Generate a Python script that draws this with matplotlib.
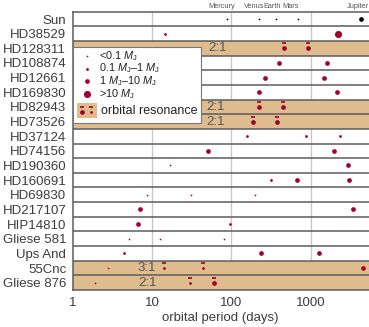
import matplotlib
matplotlib.use("Agg")
import matplotlib.pyplot as plt
from matplotlib.patches import Rectangle
import matplotlib.transforms as mtransforms

plt.rcParams['font.family'] = ['Liberation Sans', 'DejaVu Sans']
plt.rcParams['mathtext.fontset'] = 'custom'
plt.rcParams['mathtext.rm'] = 'Liberation Sans'
plt.rcParams['mathtext.it'] = 'Liberation Sans:italic'

# ---------------- data ----------------
stars = ["Sun", "HD38529", "HD128311", "HD108874", "HD12661", "HD169830",
         "HD82943", "HD73526", "HD37124", "HD74156", "HD190360", "HD160691",
         "HD69830", "HD217107", "HIP14810", "Gliese 581", "Ups And", "55Cnc",
         "Gliese 876"]
periods = [
    [88, 225, 365, 687, 4333],
    [14.8, 2220],
    [460, 930],
    [400, 1610],
    [265, 1466],
    [225, 2120],
    [221, 443],
    [189, 380],
    [156, 863, 2340],
    [51, 1977],
    [17, 2910],
    [316, 666, 3020],
    [8.6, 31, 199],
    [7.1, 3370],
    [6.65, 96],
    [5.2, 12.6, 81.5],
    [4.5, 237, 1280],
    [2.8, 14.2, 43.7, 4580],
    [1.93, 30.3, 61],
]
# mass class: 0 <0.1 MJ, 1 0.1-1 MJ, 2 1-10 MJ, 3 >10 MJ
mass_class = [
    [0, 0, 0, 0, 2],
    [1, 3],
    [2, 2],
    [2, 2],
    [2, 2],
    [2, 2],
    [2, 2],
    [2, 2],
    [1, 1, 1],
    [2, 2],
    [0, 2],
    [1, 2, 2],
    [0, 0, 0],
    [2, 2],
    [2, 1],
    [0, 0, 0],
    [1, 2, 2],
    [0, 1, 1, 2],
    [0, 1, 2],
]
resonant = [
    [0, 0, 0, 0, 0],
    [0, 0],
    [1, 1],
    [0, 0], [0, 0], [0, 0],
    [1, 1],
    [1, 1],
    [0, 0, 0], [0, 0], [0, 0], [0, 0, 0], [0, 0, 0], [0, 0], [0, 0],
    [0, 0, 0], [0, 0, 0],
    [0, 1, 1, 0],
    [0, 1, 1],
]
resonance_rows = ["HD128311", "HD82943", "HD73526", "55Cnc", "Gliese 876"]
resonance_labels = ["2:1", "2:1", "2:1", "3:1", "2:1"]
resonance_label_x = [67, 63, 63, 8.7, 8.7]
solar_names = ["Mercury", "Venus", "Earth", "Mars", "Jupiter"]
solar_label_x = [76, 195, 330, 560, 5350]
xticks = [1, 10, 100, 1000]
xticklabels = ["1", "10", "100", "1000"]
legend_labels = [r"<0.1 $M_\mathrm{J}$", r"0.1 $M_\mathrm{J}$–1 $M_\mathrm{J}$",
                 r"1 $M_\mathrm{J}$–10 $M_\mathrm{J}$", r">10 $M_\mathrm{J}$"]

# ---------------- style ----------------
sizes = [1.5, 4.0, 11.5, 26.0]
red = "#A3002B"
orange = "#DFBC8E"
sepcol = "#5c5c5c"
textcol = "#3c3c3c"

W, H = 369, 327
fig = plt.figure(figsize=(W / 100, H / 100), dpi=100)
ax = fig.add_axes([72.5 / W, 1 - 290 / H, (W - 72.5) / W, (290 - 11.7) / H])
ax.set_xscale("log")
ax.set_xlim(1, 5400)
n = len(stars)
ax.set_ylim(n - 0.5, -0.5)

# vertical grid
for xv in [10, 100, 1000]:
    ax.axvline(xv, color="#c9c9c9", lw=1.0, zorder=0)

# resonance bands
for name, lab, lx in zip(resonance_rows, resonance_labels, resonance_label_x):
    i = stars.index(name)
    ax.axhspan(i - 0.5, i + 0.5, color=orange, zorder=1, lw=0)
    ax.text(lx, i, lab, ha="center", va="center", fontsize=9.5,
            color="#555555", zorder=4)

# row separators
for i in range(n - 1):
    ax.axhline(i + 0.5, color=sepcol, lw=1.1, zorder=2)

bar_tr = mtransforms.offset_copy(ax.transData, fig=fig, x=0, y=3.6, units="points")
for i, (ps, mc, rs) in enumerate(zip(periods, mass_class, resonant)):
    col = "black" if i == 0 else red
    for p, m, r in zip(ps, mc, rs):
        ax.scatter([p], [i], s=sizes[m], color=col, zorder=5, lw=0)
        if r:
            ax.plot([p], [i], marker="_", ms=3.2, mew=1.2, color=col,
                    transform=bar_tr, zorder=5)

# solar system labels
for nm, lx in zip(solar_names, solar_label_x):
    ha = "right" if nm == "Jupiter" else "center"
    ax.text(lx, -0.6, nm, ha=ha, va="bottom", fontsize=5.3,
            color="#555555", clip_on=False)

ax.set_yticks(range(n))
ax.set_yticklabels(stars, fontsize=9.5, color=textcol)
ax.set_xticks(xticks)
ax.set_xticklabels(xticklabels, fontsize=9.5, color=textcol)
ax.minorticks_off()
ax.tick_params(axis="both", length=0)
ax.tick_params(axis="y", pad=4.5)
ax.tick_params(axis="x", pad=5)
ax.set_xlabel("orbital period (days)", fontsize=9.5, color=textcol, labelpad=2)
for sp in ["top", "bottom", "left"]:
    ax.spines[sp].set_color(sepcol)
    ax.spines[sp].set_linewidth(1.1)
ax.spines["right"].set_visible(False)

# ---------------- legend (manual) ----------------
def px2ax(x, y):
    return ((x - 72.5) / (W - 72.5), (290 - y) / (290 - 11.7))

lx0, ly0 = px2ax(72.5, 123.3)
lx1, ly1 = px2ax(201, 46.7)
ax.add_patch(Rectangle((lx0, ly0), lx1 - lx0, ly1 - ly0, transform=ax.transAxes,
                       facecolor="white", edgecolor="#777777", lw=0.8, zorder=8))
ys = [56, 68.5, 81, 94]
for yy, s, lab in zip(ys, sizes, legend_labels):
    mx, my = px2ax(86.5, yy)
    tx, ty = px2ax(99, yy)
    ax.scatter([mx], [my], s=s, color=red, transform=ax.transAxes, zorder=9, lw=0)
    ax.text(tx, ty, lab, transform=ax.transAxes, fontsize=7.8, color="#222222",
            va="center", ha="left", zorder=9)
ix0, iy0 = px2ax(77, 118)
ix1, iy1 = px2ax(97, 103)
ax.add_patch(Rectangle((ix0, iy0), ix1 - ix0, iy1 - iy0, transform=ax.transAxes,
                       facecolor=orange, edgecolor="none", zorder=9))
leg_tr = mtransforms.offset_copy(ax.transAxes, fig=fig, x=0, y=3.6, units="points")
for xx, s in [(82, sizes[2]), (91, sizes[1])]:
    mx, my = px2ax(xx, 111.5)
    ax.scatter([mx], [my], s=s, color=red, transform=ax.transAxes, zorder=10, lw=0)
    ax.plot([mx], [my], marker="_", ms=3.2, mew=1.2, color=red,
            transform=leg_tr, zorder=10)
tx, ty = px2ax(101, 110.5)
ax.text(tx, ty, "orbital resonance", transform=ax.transAxes, fontsize=9,
        color="#222222", va="center", ha="left", zorder=10)

fig.savefig("out.png", dpi=100)
